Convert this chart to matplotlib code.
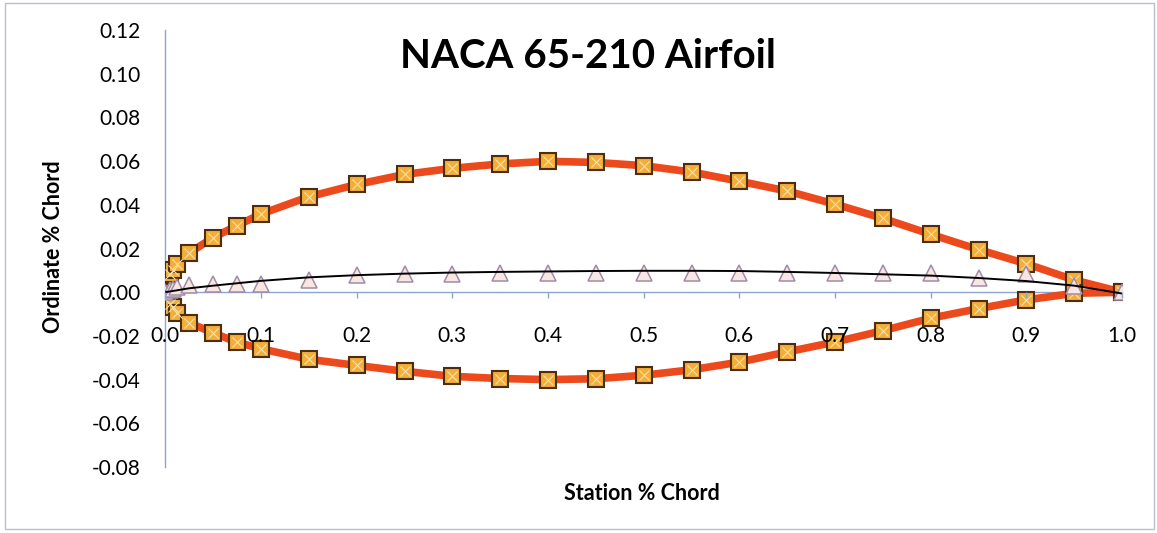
import matplotlib.pyplot as plt
from matplotlib.patches import Rectangle

plt.rcParams['font.family'] = ['Lato', 'DejaVu Sans']

# stations and ordinates, fraction of chord
stations = [0, 0.005, 0.0075, 0.0125, 0.025, 0.05, 0.075, 0.1, 0.15, 0.2, 0.25, 0.3, 0.35,
            0.4, 0.45, 0.5, 0.55, 0.6, 0.65, 0.7, 0.75, 0.8, 0.85, 0.9, 0.95, 1.0]
upper = [0, 0.0082, 0.0100, 0.0130, 0.0180, 0.0250, 0.0305, 0.0358, 0.0437, 0.0493, 0.0539,
         0.0567, 0.0587, 0.0599, 0.0594, 0.0579, 0.0550, 0.0508, 0.0463, 0.0403, 0.0338,
         0.0265, 0.0195, 0.0130, 0.0056, 0.0]
lower = [0, -0.0055, -0.0068, -0.0094, -0.0140, -0.0186, -0.0229, -0.0259, -0.0307, -0.0335,
         -0.0362, -0.0385, -0.0395, -0.0400, -0.0396, -0.0380, -0.0355, -0.0320, -0.0273,
         -0.0228, -0.0176, -0.0119, -0.0075, -0.0035, -0.0005, 0.0]
camber_pts = [0, 0.0010, 0.0015, 0.0022, 0.0033, 0.0036, 0.0037, 0.0038, 0.0058, 0.0077,
              0.0082, 0.0085, 0.0086, 0.0087, 0.0087, 0.0087, 0.0088, 0.0090, 0.0090, 0.0090,
              0.0090, 0.0090, 0.0065, 0.0085, 0.0029, 0.0]

# mean line
mean_x = [0, 0.025, 0.05, 0.1, 0.15, 0.2, 0.25, 0.3, 0.35, 0.4, 0.45, 0.5, 0.55, 0.6,
          0.65, 0.7, 0.75, 0.8, 0.85, 0.9, 0.95, 1.0]
mean_y = [0, 0.0018, 0.0030, 0.0052, 0.0068, 0.0078, 0.0085, 0.0090, 0.0093, 0.0095,
          0.0097, 0.0098, 0.0098, 0.0097, 0.0093, 0.0088, 0.0082, 0.0076, 0.0065, 0.0051,
          0.0030, -0.0006]

fig = plt.figure(figsize=(11.57, 5.33), dpi=100)
ax = fig.add_axes([0.1429, 0.1238, 0.8269, 0.8199])

line_col = '#ec4a1c'
face = '#f3ae3a'
edge = '#4e2c0e'

for surf in (upper, lower):
    ax.plot(stations, surf, color=line_col, lw=5.5, zorder=3, solid_capstyle='round')
    ax.plot(stations, surf, ls='none', marker='s', ms=11, mfc=face, mec=edge, mew=1.5, zorder=4)
    ax.plot(stations, surf, ls='none', marker='x', ms=7.5, mec='#fbe2a4', mew=0.8, zorder=5)

ax.plot(stations, camber_pts, ls='none', marker='^', ms=11, mfc='#f8e6e2', mec='#a08ca6',
        mew=1.1, zorder=5)
ax.plot(mean_x, mean_y, color='black', lw=1.4, zorder=6)

ax.set_xlim(0, 1.0)
ax.set_ylim(-0.08, 0.12)
ax.set_xticks([i / 10 for i in range(11)])
ax.set_yticks([-0.08 + 0.02 * i for i in range(11)])
ax.xaxis.set_major_formatter(plt.FormatStrFormatter('%.1f'))
ax.yaxis.set_major_formatter(plt.FormatStrFormatter('%.2f'))

ax.spines['left'].set_position(('data', 0))
ax.spines['bottom'].set_position(('data', 0))
ax.spines['top'].set_visible(False)
ax.spines['right'].set_visible(False)
for s in ('left', 'bottom'):
    ax.spines[s].set_color('#8ea6cf')
    ax.spines[s].set_linewidth(1.0)

ax.tick_params(axis='x', direction='out', length=4, width=1, color='#8ea6cf',
               labelsize=15, pad=20)
ax.tick_params(axis='y', length=0, labelsize=15, pad=18)
ax.xaxis.set_zorder(7)

ax.set_title('NACA 65-210 Airfoil', fontsize=29, fontweight='bold', x=0.442, y=0.895)
ax.set_xlabel('Station % Chord', fontsize=15.5, fontweight='bold')
ax.xaxis.set_label_coords(0.498, -0.036)
ax.set_ylabel('Ordinate % Chord', fontsize=15.5, fontweight='bold')
ax.yaxis.set_label_coords(-0.106, 0.505)

fig.patches.append(Rectangle((0.004, 0.008), 0.993, 0.986, transform=fig.transFigure,
                             fill=False, ec='#b5c0d6', lw=1.0))

fig.savefig('out.png', dpi=100)
